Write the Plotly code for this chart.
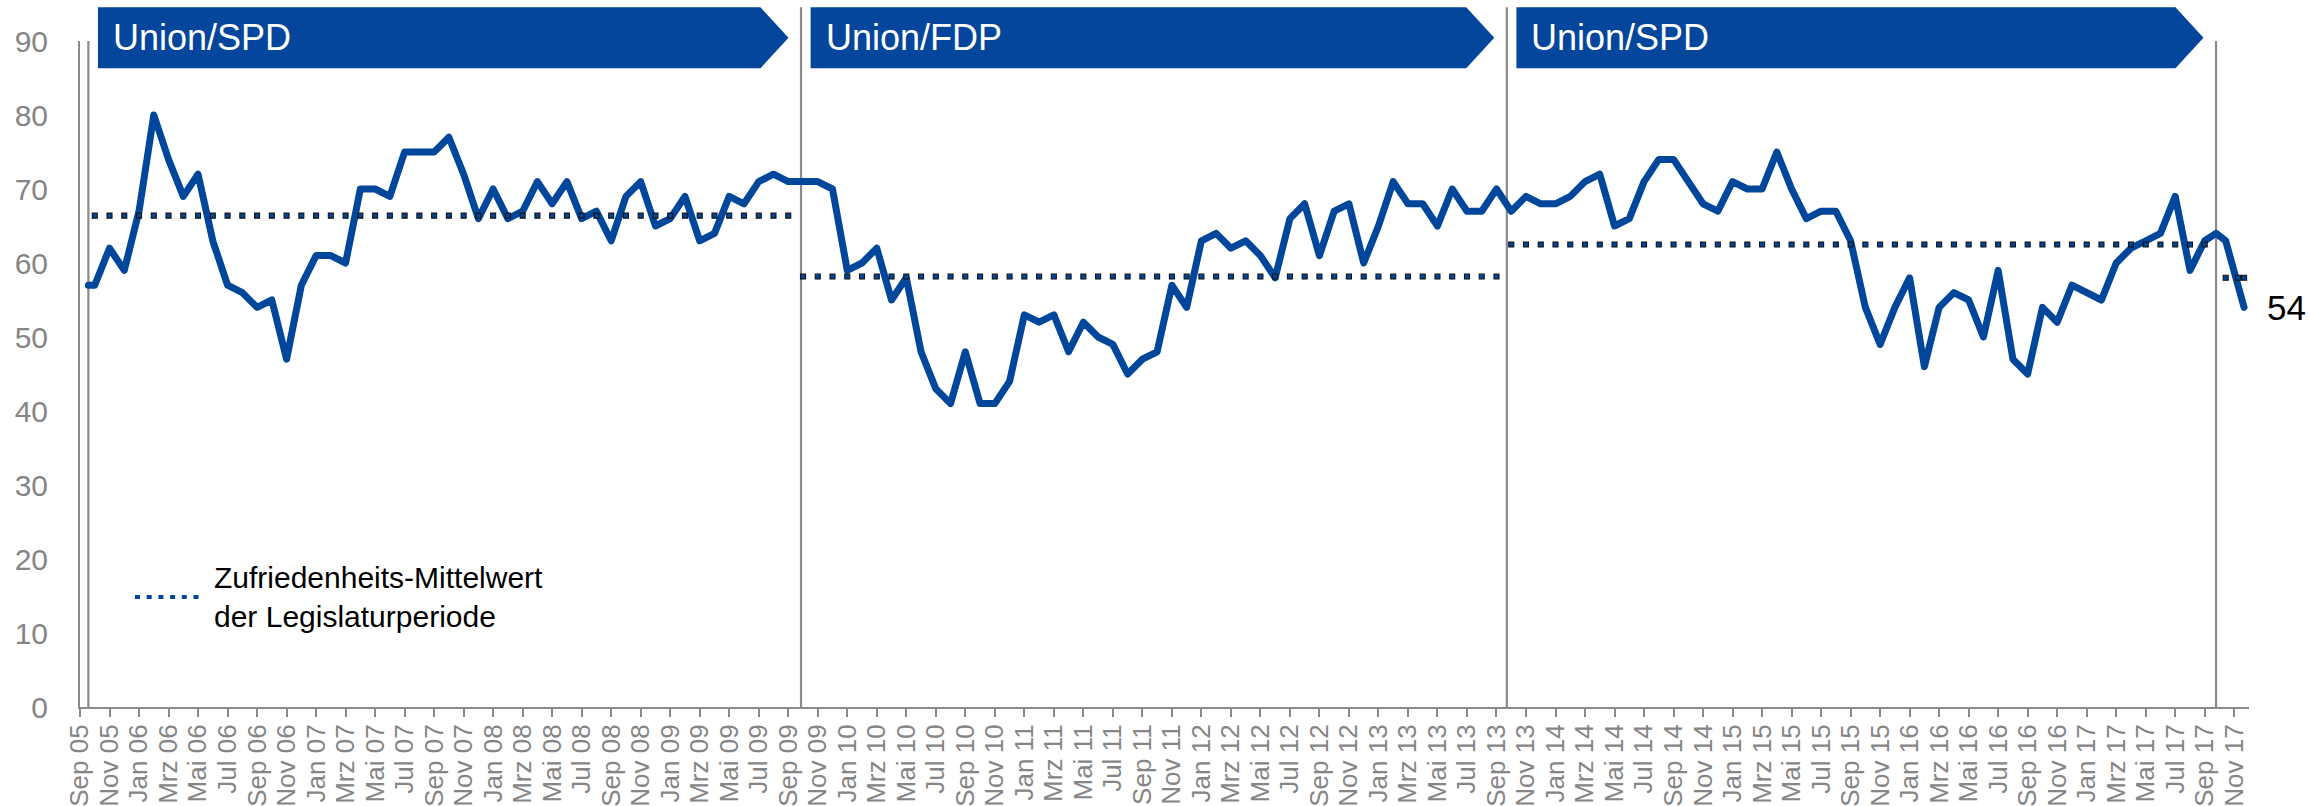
import numpy as np
import pandas as pd
import plotly.graph_objects as go

# ---------------- data ----------------
election_dates = ["2005-09-18", "2009-09-27", "2013-09-22", "2017-09-24"]
coalitions = ["Union/SPD", "Union/FDP", "Union/SPD"]

# election-day points (start of a period)
start_dates = ["2005-09-18", "2017-09-24"]
start_values = [57, 64]

# monthly values, Oct 2005 - Sep 2009
p1_values = [57, 62, 59, 67, 80, 74, 69, 72, 63, 57, 56, 54, 55, 47, 57, 61, 61, 60,
             70, 70, 69, 75, 75, 75, 77, 72, 66, 70, 66, 67, 71, 68, 71, 66, 67, 63,
             69, 71, 65, 66, 69, 63, 64, 69, 68, 71, 72, 71]
# monthly values, Oct 2009 - Sep 2013
p2_values = [71, 71, 70, 59, 60, 62, 55, 58, 48, 43, 41, 48, 41, 41, 44, 53, 52, 53,
             48, 52, 50, 49, 45, 47, 48, 57, 54, 63, 64, 62, 63, 61, 58, 66, 68, 61,
             67, 68, 60, 65, 71, 68, 68, 65, 70, 67, 67, 70]
# monthly values, Oct 2013 - Sep 2017
p3_values = [67, 69, 68, 68, 69, 71, 72, 65, 66, 71, 74, 74, 71, 68, 67, 71, 70, 70,
             75, 70, 66, 67, 67, 63, 54, 49, 54, 58, 46, 54, 56, 55, 50, 59, 47, 45,
             54, 52, 57, 56, 55, 60, 62, 63, 64, 69, 59, 63]
# surveys after the 2017 election
p4_dates = ["2017-10-14", "2017-11-09", "2017-11-21"]
p4_values = [63, 57, 54]

month_abbr = ["Jan", "Feb", "Mrz", "Apr", "Mai", "Jun", "Jul", "Aug", "Sep", "Okt", "Nov", "Dez"]
legend_text = "Zufriedenheits-Mittelwert<br>der Legislaturperiode"

# ---------------- helpers ----------------
def month_pos(d):
    ts = pd.Timestamp(d)
    return (ts.year - 2005) * 12 + (ts.month - 9) + (ts.day - 1) / ts.days_in_month

period_dates = [
    pd.date_range("2005-10-01", periods=len(p1_values), freq="MS"),
    pd.date_range("2009-10-01", periods=len(p2_values), freq="MS"),
    pd.date_range("2013-10-01", periods=len(p3_values), freq="MS"),
    pd.to_datetime(p4_dates),
]
period_values = [p1_values, p2_values, p3_values, p4_values]
period_x = [[month_pos(d) for d in ds] for ds in period_dates]

# full line: election start point + monthly surveys
line_x = [month_pos(start_dates[0])] + period_x[0] + period_x[1] + period_x[2] \
         + [month_pos(start_dates[1])] + period_x[3]
line_y = [start_values[0]] + p1_values + p2_values + p3_values + [start_values[1]] + p4_values

X_MAX = 147  # Dec 2017
tick_vals = list(range(0, X_MAX, 2))
tick_text = [f"{month_abbr[(8 + k) % 12]} {(5 + (8 + k) // 12):02d}" for k in tick_vals]

# ---------------- styling constants ----------------
BLUE = "#00479c"
BANNER = "#03469b"
GREY = "#8a8a8a"
TXT_GREY = "#858585"
FONT = "Arial, 'Liberation Sans', sans-serif"

W, H = 2310, 806
M_L, M_R, M_T, M_B = 80, 61, 41, 99
PLOT_H = H - M_T - M_B
PLOT_W = W - M_L - M_R

def py(px):  # pixel row -> paper y
    return 1 - (px - M_T) / PLOT_H

def pxp(px):  # pixel column -> paper x
    return (px - M_L) / PLOT_W

fig = go.Figure()

fig.add_trace(go.Scatter(
    x=line_x, y=line_y, mode="lines",
    line=dict(color=BLUE, width=7),
    hoverinfo="skip",
))

# period means as square markers
for xs, vals in zip(period_x, period_values):
    m = float(np.mean(vals))
    fig.add_trace(go.Scatter(
        x=xs, y=[m] * len(xs), mode="markers",
        marker=dict(symbol="square", size=5, color=BLUE,
                    line=dict(color="#111111", width=1.1)),
        hoverinfo="skip",
    ))

shapes = []
annotations = []

# election divider lines
elec_x = [month_pos(d) for d in election_dates]
for i, ex in enumerate(elec_x):
    top = 1.0 if i in (0, len(elec_x) - 1) else py(7.3)
    shapes.append(dict(type="line", xref="x", yref="paper", x0=ex, x1=ex, y0=0, y1=top,
                       line=dict(color=GREY, width=2.2), layer="below"))

# coalition banners (chevrons)
yt, yb = py(7.3), py(68.3)
ym = (yt + yb) / 2
ARROW = 1.9  # months
for i, name in enumerate(coalitions):
    x0 = elec_x[i] + 0.65
    xt = elec_x[i + 1] - 0.85
    xr = xt - ARROW
    shapes.append(dict(type="path", xref="x", yref="paper",
                       path=f"M {x0},{yb} L {x0},{yt} L {xr},{yt} L {xt},{ym} L {xr},{yb} Z",
                       fillcolor=BANNER, line=dict(width=0), layer="above"))
    annotations.append(dict(x=x0, y=ym, xref="x", yref="paper", text=name,
                            showarrow=False, xanchor="left", yanchor="middle", xshift=13,
                            font=dict(size=36, color="white", family=FONT)))

# last value label
annotations.append(dict(x=line_x[-1], y=line_y[-1], xref="x", yref="y", text=str(line_y[-1]),
                        showarrow=False, xanchor="left", yanchor="middle", xshift=21,
                        font=dict(size=35, color="black", family=FONT)))

# custom legend
shapes.append(dict(type="line", xref="paper", yref="paper",
                   x0=pxp(135), x1=pxp(202), y0=py(597), y1=py(597),
                   line=dict(color=BLUE, width=4, dash="5px,6.7px")))
annotations.append(dict(x=pxp(212), y=py(597), xref="paper", yref="paper", text=legend_text,
                        showarrow=False, xanchor="left", yanchor="middle", align="left",
                        font=dict(size=30, color="black", family=FONT)))

fig.update_layout(
    width=W, height=H,
    margin=dict(l=M_L, r=M_R, t=M_T, b=M_B, pad=0, autoexpand=False),
    paper_bgcolor="white", plot_bgcolor="white",
    showlegend=False,
    font=dict(family=FONT),
    shapes=shapes, annotations=annotations,
    xaxis=dict(range=[0, X_MAX], tickmode="array", tickvals=tick_vals, ticktext=tick_text,
               tickangle=-90, tickfont=dict(size=26, color=TXT_GREY, family=FONT),
               ticks="outside", ticklen=8, tickwidth=1.5, tickcolor=GREY,
               showline=True, linecolor=GREY, linewidth=2, showgrid=False, zeroline=False,
               ticklabelstandoff=-3, automargin=False),
    yaxis=dict(range=[0, 90], tickmode="array", tickvals=list(range(0, 91, 10)),
               tickfont=dict(size=30, color=TXT_GREY, family=FONT),
               ticks="", showline=True, linecolor=GREY, linewidth=2,
               showgrid=False, zeroline=False, ticklabelstandoff=24, automargin=False),
)

post = ("document.body.style.margin='0';document.body.style.overflow='hidden';"
        "document.querySelectorAll('.scatterlayer .js-line').forEach(function(p){"
        "p.style.strokeLinejoin='round';p.style.strokeLinecap='round';});")
fig.write_html("out.html", post_script=post, config={"displayModeBar": False})
